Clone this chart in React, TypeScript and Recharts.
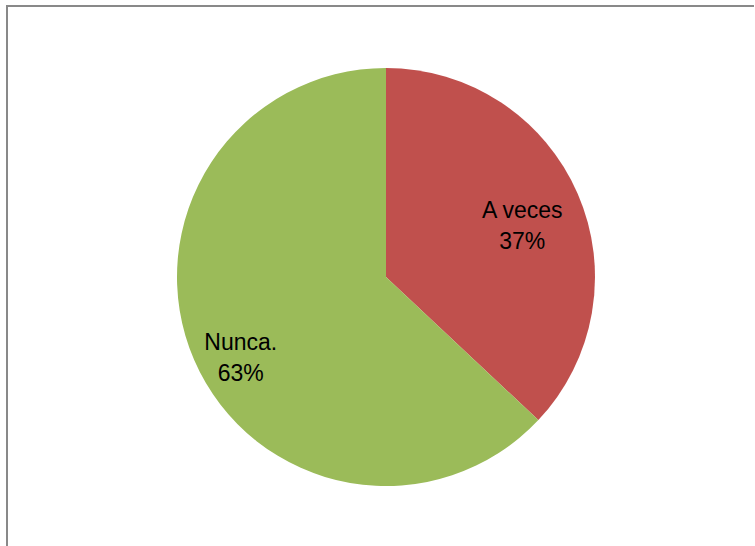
import { PieChart, Pie, Cell } from "recharts";

const categories = ["A veces", "Nunca."];
const values = [37, 63];
const colors = ["#C0504D", "#9BBB59"];

// label placement tweaks (radius fraction, angle shift in degrees), Excel "best fit" look
const labelPlacement = [
  { r: 0.7, da: -2 },
  { r: 0.79, da: 5 },
];

const data = categories.map((name, i) => ({ name, value: values[i] }));

const RAD = Math.PI / 180;

const renderLabel = (props: any) => {
  const { cx, cy, midAngle, outerRadius, index, name, value } = props;
  const p = labelPlacement[index];
  const a = (midAngle + p.da) * RAD;
  const x = cx + outerRadius * p.r * Math.cos(a);
  const y = cy - outerRadius * p.r * Math.sin(a);
  return (
    <text
      x={x}
      y={y}
      textAnchor="middle"
      fill="#000"
      fontFamily="Liberation Sans, Arial, sans-serif"
      fontSize={23}
    >
      <tspan x={x} dy={-6}>
        {name}
      </tspan>
      <tspan x={x} dy={31}>
        {`${value}%`}
      </tspan>
    </text>
  );
};

export default function App() {
  return (
    <div
      style={{
        position: "absolute",
        left: 0,
        top: 0,
        width: 755,
        height: 546,
        background: "#fff",
        overflow: "hidden",
      }}
    >
      <div
        style={{
          position: "absolute",
          left: 6,
          top: 5,
          width: 748,
          height: 560,
          borderLeft: "2px solid #898989",
          borderTop: "2px solid #898989",
          boxSizing: "border-box",
        }}
      />
      <PieChart
        width={755}
        height={546}
        margin={{ top: 0, right: 0, bottom: 0, left: 0 }}
        style={{ position: "absolute", left: 0, top: 0 }}
      >
        <Pie
          data={data}
          dataKey="value"
          nameKey="name"
          cx={386}
          cy={277}
          outerRadius={209}
          startAngle={90}
          endAngle={-270}
          stroke="none"
          label={renderLabel}
          labelLine={false}
          isAnimationActive={false}
        >
          {data.map((d, i) => (
            <Cell key={d.name} fill={colors[i]} />
          ))}
        </Pie>
      </PieChart>
    </div>
  );
}
